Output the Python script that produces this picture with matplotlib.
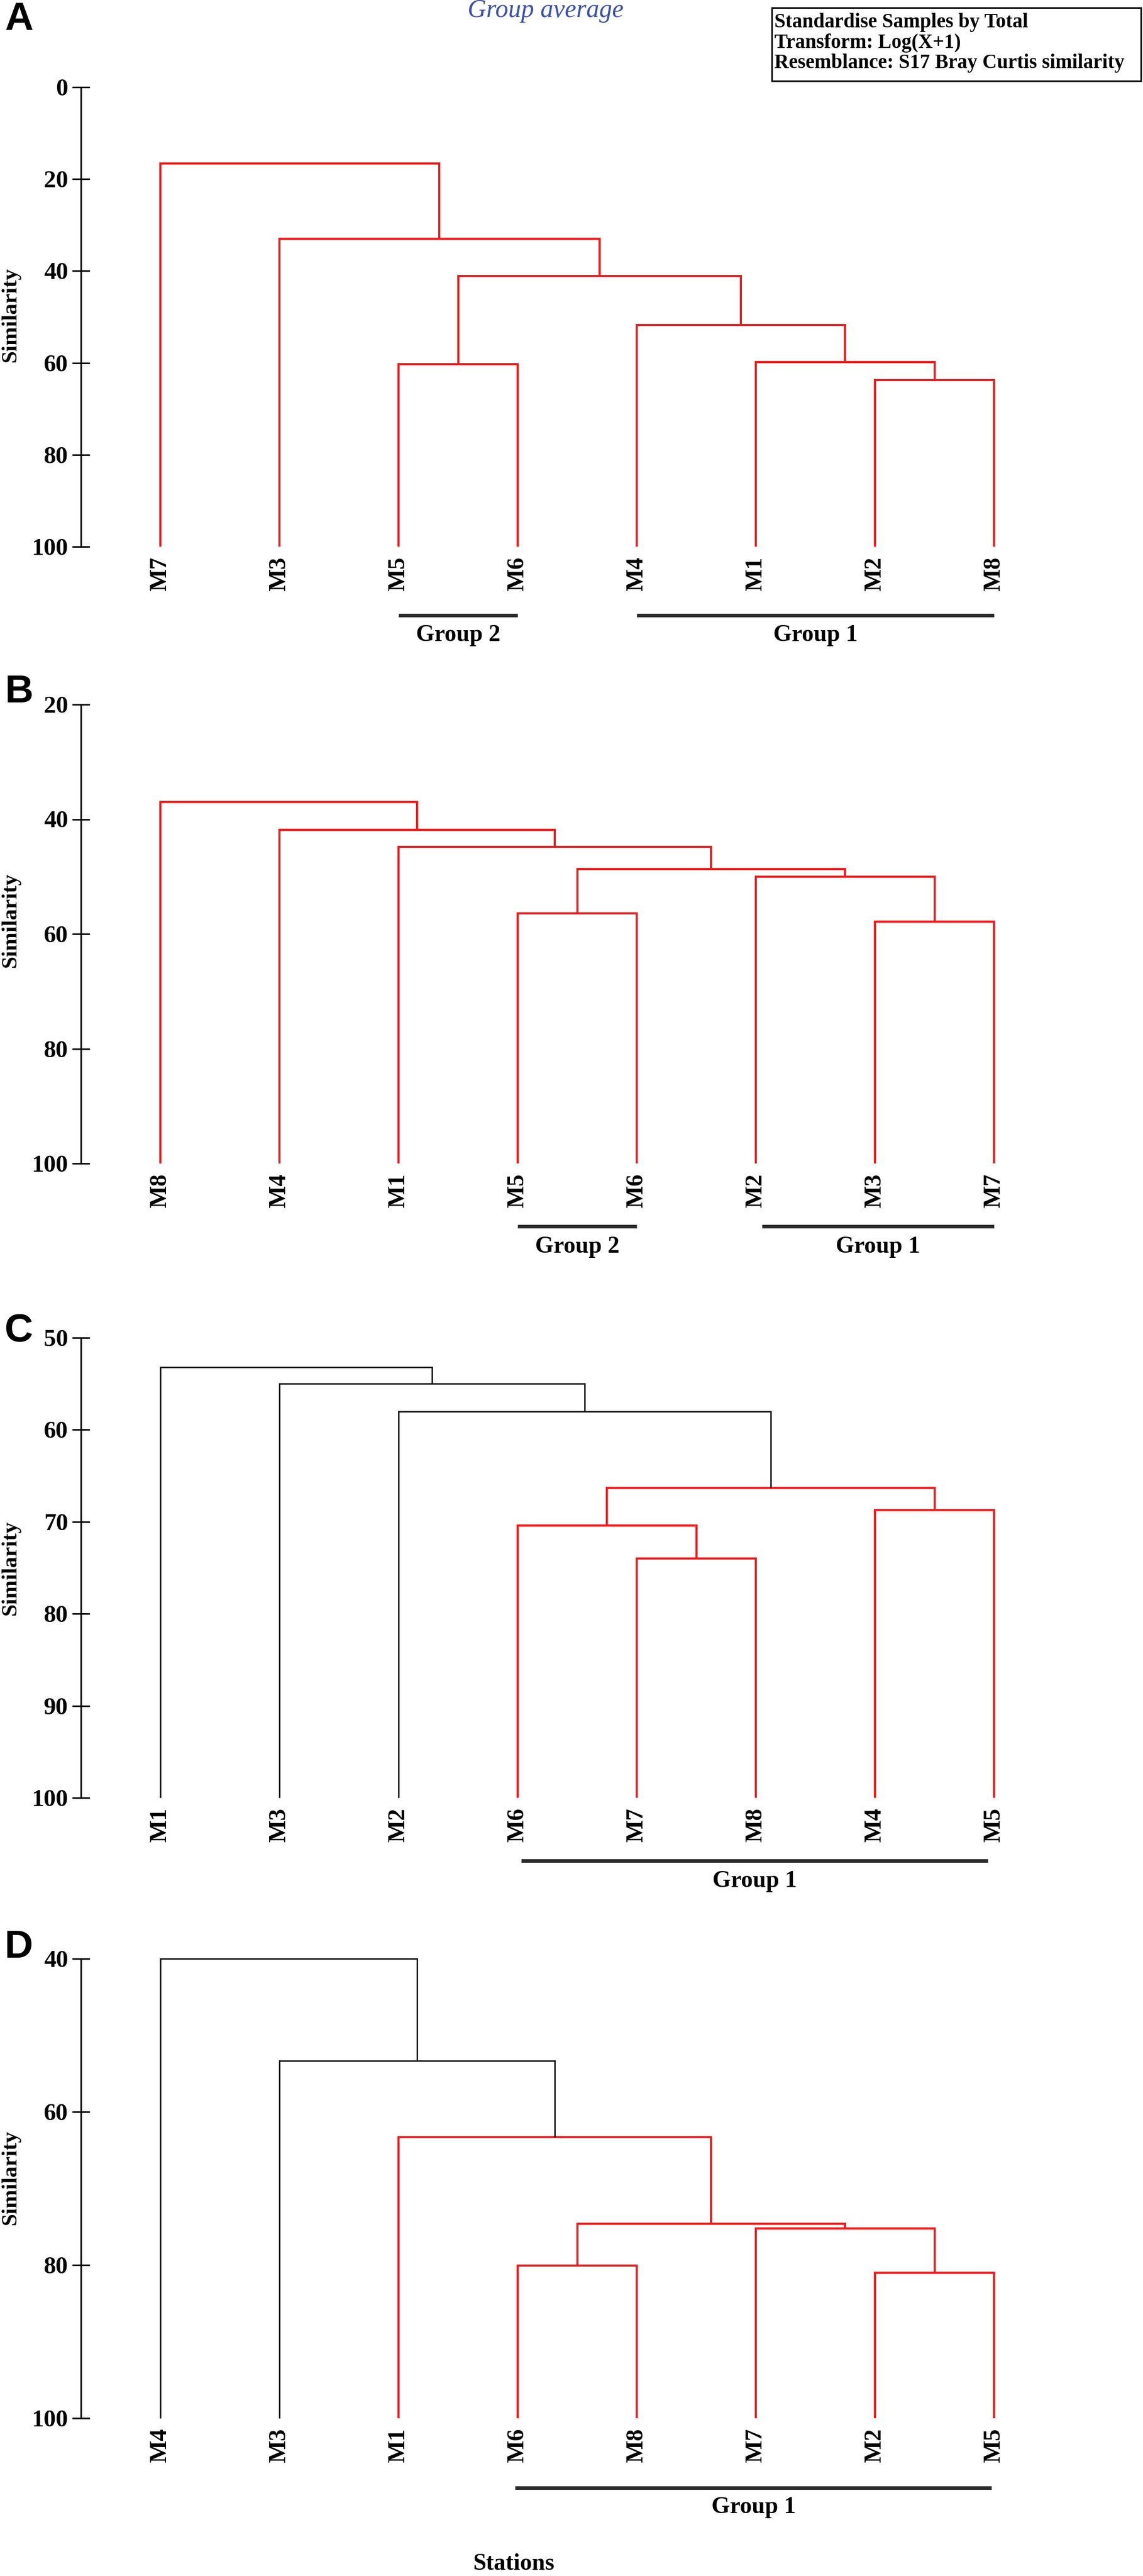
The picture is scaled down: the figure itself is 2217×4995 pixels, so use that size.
import matplotlib
matplotlib.use("Agg")
import matplotlib.pyplot as plt
from matplotlib.patches import Rectangle

W, H = 2217, 4995
RED = "#ee1c1c"
BLACK = "#111111"
SERIF = "Liberation Serif"

# ---- data: leaf order, merges (left, right, similarity), merge colours, groups
# merge children are leaf names or indices of earlier merges
a_leaves = ["M7", "M3", "M5", "M6", "M4", "M1", "M2", "M8"]
a_merges = [("M2", "M8", 63.8), ("M1", 0, 59.8), ("M5", "M6", 60.3),
            ("M4", 1, 51.7), (2, 3, 41.1), ("M3", 4, 33.0), ("M7", 5, 16.6)]
a_colors = ["r", "r", "r", "r", "r", "r", "r"]
a_groups = [("Group 2", 3, 4), ("Group 1", 5, 8)]
a_ticks = [0, 20, 40, 60, 80, 100]

b_leaves = ["M8", "M4", "M1", "M5", "M6", "M2", "M3", "M7"]
b_merges = [("M3", "M7", 57.8), ("M5", "M6", 56.4), ("M2", 0, 50.0),
            (1, 2, 48.7), ("M1", 3, 44.8), ("M4", 4, 41.8), ("M8", 5, 37.0)]
b_colors = ["r", "r", "r", "r", "r", "r", "r"]
b_groups = [("Group 2", 4, 5), ("Group 1", 6.05, 8)]
b_ticks = [20, 40, 60, 80, 100]

c_leaves = ["M1", "M3", "M2", "M6", "M7", "M8", "M4", "M5"]
c_merges = [("M7", "M8", 74.0), ("M6", 0, 70.4), ("M4", "M5", 68.7),
            (1, 2, 66.3), ("M2", 3, 58.0), ("M3", 4, 55.0), ("M1", 5, 53.2)]
c_colors = ["r", "r", "r", "r", "k", "k", "k"]
c_groups = [("Group 1", 4.03, 7.95)]
c_ticks = [50, 60, 70, 80, 90, 100]

d_leaves = ["M4", "M3", "M1", "M6", "M8", "M7", "M2", "M5"]
d_merges = [("M2", "M5", 81.0), ("M6", "M8", 80.1), ("M7", 0, 75.2),
            (1, 2, 74.6), ("M1", 3, 63.3), ("M3", 4, 53.3), ("M4", 5, 40.0)]
d_colors = ["r", "r", "r", "r", "r", "k", "k"]
d_groups = [("Group 1", 3.98, 7.98)]
d_ticks = [40, 60, 80, 100]

panel_letters = ["A", "B", "C", "D"]
info_lines = ["Standardise Samples by Total",
              "Transform: Log(X+1)",
              "Resemblance: S17 Bray Curtis similarity"]


def draw_tree(ax, leaves, merges, colors):
    pos = {name: i + 1 for i, name in enumerate(leaves)}
    nodes = []

    def get(n):
        if isinstance(n, str):
            return pos[n], 100.0
        return nodes[n]

    for (a, b, h), c in zip(merges, colors):
        xa, ha = get(a)
        xb, hb = get(b)
        col = RED if c == "r" else BLACK
        lw = 3.0 if c == "r" else 2.0
        ax.plot([xa, xa, xb, xb], [ha, h, h, hb], color=col, lw=lw,
                clip_on=False, solid_joinstyle="miter", solid_capstyle="butt")
        nodes.append(((xa + xb) / 2, h))


fig = plt.figure(figsize=(W / 100, H / 100), dpi=100)

# pixel layout: axis top, axis bottom, group bar offset, label offset, ylabel centre, letter y
layout = [
    (169, 1060, 133, 172, 610, 38),
    (1366, 2256, 122, 162, 1784, 1343),
    (2594, 3486, 122, 162, 3040, 2582),
    (3798, 4689, 135, 173, 4222, 3777),
]
panels = [
    (a_leaves, a_merges, a_colors, a_groups, a_ticks),
    (b_leaves, b_merges, b_colors, b_groups, b_ticks),
    (c_leaves, c_merges, c_colors, c_groups, c_ticks),
    (d_leaves, d_merges, d_colors, d_groups, d_ticks),
]

x_left, x_right = 157, 2082
for (leaves, merges, colors, groups, ticks), (top, bot, bar_off, lab_off, ylab_y, let_y), letter in zip(
        panels, layout, panel_letters):
    ax = fig.add_axes([x_left / W, 1 - bot / H, (x_right - x_left) / W, (bot - top) / H])
    ax.set_xlim(1 - 154 / 231, 8 + 154 / 231)
    ax.set_ylim(100, ticks[0])
    for s in ["top", "right", "bottom"]:
        ax.spines[s].set_visible(False)
    ax.spines["left"].set_linewidth(2.2)
    ax.set_yticks(ticks)
    ax.set_yticklabels([str(t) for t in ticks], fontfamily=SERIF, fontweight="bold", fontsize=34)
    ax.tick_params(axis="y", direction="inout", length=24, width=2.2, pad=6)
    ax.set_xticks(range(1, 9))
    ax.set_xticklabels(leaves, rotation=90, fontfamily=SERIF, fontweight="bold", fontsize=33)
    ax.tick_params(axis="x", length=0, pad=14)

    draw_tree(ax, leaves, merges, colors)

    h_px = bot - top
    tr = ax.get_xaxis_transform()
    for name, s, e in groups:
        ax.plot([s, e], [-bar_off / h_px] * 2, transform=tr, color="#2b2b2b",
                lw=5, clip_on=False, solid_capstyle="butt")
        ax.text((s + e) / 2, -lab_off / h_px, name, transform=tr, ha="center", va="center",
                fontfamily=SERIF, fontweight="bold", fontsize=33)

    fig.text(21 / W, 1 - ylab_y / H, "Similarity", rotation=90, ha="center", va="center",
             fontfamily=SERIF, fontweight="bold", fontsize=31)
    fig.text(37 / W, 1 - let_y / H, letter, ha="center", va="center",
             fontfamily="Liberation Sans", fontweight="bold", fontsize=55)

# header
fig.text(1058 / W, 1 - 33 / H, "Group average", ha="center", va="baseline",
         fontfamily=SERIF, fontstyle="italic", fontsize=36, color="#3d52a6")
for i, line in enumerate(info_lines):
    fig.text(1502 / W, 1 - (53 + 39.5 * i) / H, line, ha="left", va="baseline",
             fontfamily=SERIF, fontweight="bold", fontsize=28)
fig.patches.append(Rectangle((1497 / W, 1 - 157 / H), (2213 - 1497) / W, (157 - 15) / H,
                             transform=fig.transFigure, fill=False, lw=2.2, edgecolor="black"))

fig.text(997 / W, 1 - 4972 / H, "Stations", ha="center", va="center",
         fontfamily=SERIF, fontweight="bold", fontsize=33)

fig.savefig("out.png", dpi=100, facecolor="white")
